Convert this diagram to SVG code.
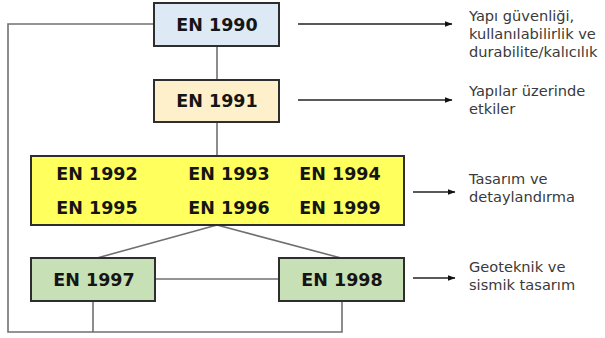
<svg xmlns="http://www.w3.org/2000/svg" width="605" height="338" viewBox="0 0 605 338">
<defs>
<style>
.box{stroke:#2e2e2e;stroke-width:2}
.en{font-family:"DejaVu Sans",Verdana,sans-serif;font-weight:bold;font-size:17.5px;fill:#151515;text-anchor:middle}
.lbl{font-family:"DejaVu Sans","Liberation Sans",sans-serif;font-size:14.6px;fill:#3a3a3a}
.con{stroke:#707070;stroke-width:1.6;fill:none}
.arr{stroke:#222;stroke-width:1.4;fill:none;marker-end:url(#ah)}
</style>
<marker id="ah" markerWidth="8" markerHeight="6" refX="7.5" refY="3" orient="auto" markerUnits="userSpaceOnUse">
<path d="M0,0 L8,3 L0,6 Z" fill="#111"/>
</marker>
</defs>
<rect width="605" height="338" fill="#fff"/>
<g id="connectors">
<polyline class="con" points="154,24 8,24 8,332 342,332 342,301"/>
<line class="con" x1="93" y1="301" x2="93" y2="332"/>
<line class="con" x1="217" y1="46" x2="217" y2="80"/>
<line class="con" x1="217" y1="122" x2="217" y2="156"/>
<line class="con" x1="217" y1="225" x2="97" y2="258"/>
<line class="con" x1="217" y1="225" x2="341" y2="258"/>
<line class="con" x1="155" y1="279" x2="279" y2="279"/>
<line class="arr" x1="298" y1="24" x2="452" y2="24"/>
<line class="arr" x1="298" y1="100" x2="452" y2="100"/>
<line class="arr" x1="413" y1="192" x2="455" y2="192"/>
<line class="arr" x1="413" y1="278" x2="455" y2="278"/>
</g>
<g id="en1990">
<rect class="box" x="154" y="3" width="125" height="43" fill="#dde9f5"/>
<text class="en" x="217" y="31">EN 1990</text>
</g>
<g id="en1991">
<rect class="box" x="154" y="80" width="125" height="42" fill="#fdf0cb"/>
<text class="en" x="217" y="107">EN 1991</text>
</g>
<g id="en1992-1999">
<rect class="box" x="31" y="156" width="373" height="69" fill="#ffff5e"/>
<text class="en" x="97" y="180">EN 1992</text>
<text class="en" x="229" y="180">EN 1993</text>
<text class="en" x="340" y="180">EN 1994</text>
<text class="en" x="97" y="214">EN 1995</text>
<text class="en" x="229" y="214">EN 1996</text>
<text class="en" x="340" y="214">EN 1999</text>
</g>
<g id="en1997">
<rect class="box" x="31" y="258" width="124" height="43" fill="#c7e0b5"/>
<text class="en" x="94" y="286">EN 1997</text>
</g>
<g id="en1998">
<rect class="box" x="279" y="258" width="125" height="43" fill="#c7e0b5"/>
<text class="en" x="342" y="286">EN 1998</text>
</g>
<g id="label1">
<text class="lbl" x="469" y="21">Yapı güvenliği,</text>
<text class="lbl" x="469" y="39">kullanılabilirlik ve</text>
<text class="lbl" x="469" y="57">durabilite/kalıcılık</text>
</g>
<g id="label2">
<text class="lbl" x="469" y="96">Yapılar üzerinde</text>
<text class="lbl" x="469" y="114">etkiler</text>
</g>
<g id="label3">
<text class="lbl" x="469" y="184">Tasarım ve</text>
<text class="lbl" x="469" y="202">detaylandırma</text>
</g>
<g id="label4">
<text class="lbl" x="469" y="272">Geoteknik ve</text>
<text class="lbl" x="469" y="290">sismik tasarım</text>
</g>
</svg>
